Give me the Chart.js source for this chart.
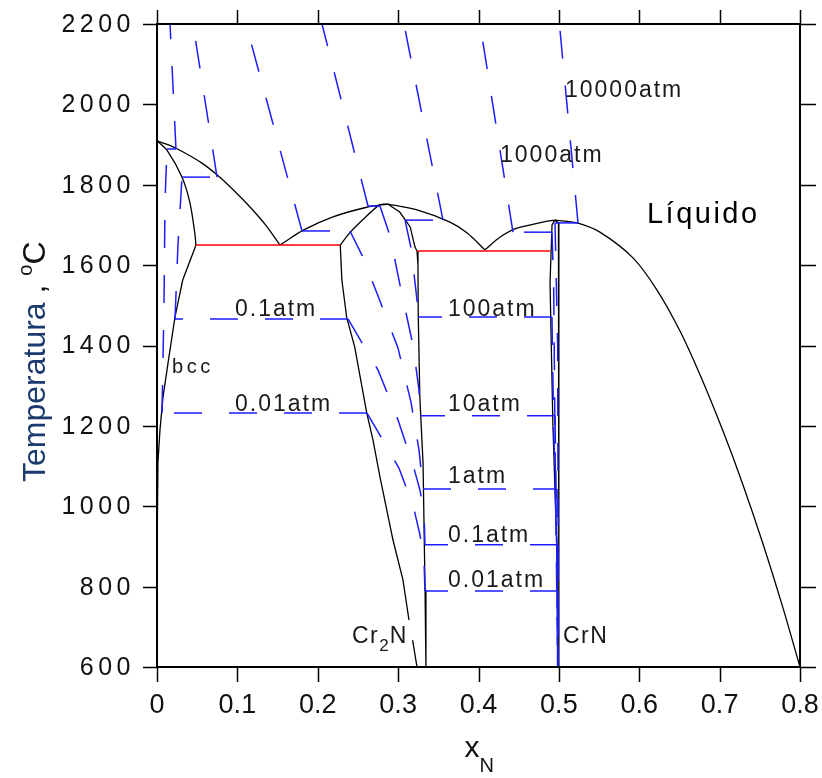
<!DOCTYPE html>
<html>
<head>
<meta charset="utf-8">
<script src="https://cdn.jsdelivr.net/npm/chart.js@4.4.0/dist/chart.umd.min.js"></script>
<style>
  html, body { margin: 0; padding: 0; background: #fff; }
  #wrap { width: 822px; height: 778px; }
</style>
</head>
<body>
<div id="wrap"><canvas id="phaseChart" width="822" height="778"></canvas></div>
<script>
// axis ticks
const xTicks = [0, 0.1, 0.2, 0.3, 0.4, 0.5, 0.6, 0.7, 0.8];
const yTicks = [600, 800, 1000, 1200, 1400, 1600, 1800, 2000, 2200];

// phase boundaries, [x_N, T in °C]
const bccLiquidus = [[0,1909],[0.016,1898],[0.032,1882],[0.055,1855],[0.075,1824],[0.096,1785],[0.116,1744],[0.135,1700],[0.153,1650]];
const bccSolidus = [[0,1909],[0.0124,1886],[0.031,1819],[0.041,1755],[0.047,1680],[0.0485,1650]];
const bccSolvus = [[0.0485,1650],[0.047,1642],[0.032,1563],[0.0224,1471],[0.0137,1356],[0.0075,1272],[0.0037,1190],[0.0012,1110],[0.0004,1095],[0.0004,940]];
const cr2nLiquidusLeft = [[0.153,1650],[0.157,1655],[0.182,1687],[0.219,1720],[0.261,1744],[0.287,1752]];
const cr2nLiquidusRight = [[0.287,1752],[0.3226,1738],[0.3645,1707],[0.386,1680],[0.408,1638]];
const cr2nSolidusLeft = [[0.287,1752],[0.277,1750],[0.256,1713],[0.240,1681],[0.228,1650]];
const cr2nSolvusLeft = [[0.228,1650],[0.230,1563],[0.236,1470],[0.246,1396],[0.261,1232],[0.2687,1165],[0.2774,1073],[0.2936,916],[0.306,817],[0.3135,717]];
const cr2nSolvusLeftLow = [[0.318,667],[0.3235,600]];
const cr2nBoundaryRight = [[0.287,1752],[0.302,1732],[0.315,1695],[0.321,1645],[0.3235,1635],[0.3247,1600],[0.325,1480],[0.327,1272],[0.331,1108],[0.3335,792],[0.3346,600]];
const crnLiquidusLeft = [[0.408,1638],[0.427,1670],[0.448,1692],[0.480,1707],[0.495,1712]];
const crnLiquidusRight = [[0.495,1712],[0.5225,1705],[0.551,1682],[0.5922,1618],[0.6221,1538],[0.6507,1436],[0.6756,1327],[0.7042,1187],[0.7291,1053],[0.754,906],[0.7788,747],[0.8,600]];
const crnBoundaryLeft = [[0.495,1712],[0.4915,1700],[0.489,1556],[0.4925,1208],[0.4975,892],[0.499,600]];
const crnBoundaryRight = [[0.495,1712],[0.4995,1705],[0.5,1600],[0.5,600]];
const eutecticBccCr2n = [[0.0485,1650],[0.2277,1650]];
const eutecticCr2nCrn = [[0.3235,1635],[0.489,1635]];

// nitrogen isobars, one list of pieces per pressure (each piece starts a new dash)
const iso001 = [
    [[0.0236,1889],[0.0162,2200]],
    [[0.0124,1889],[0.0236,1889]],
    [[0.0062,1232],[0.0087,1500],[0.010,1760],[0.0124,1889]],
    [[0.2613,1232],[0.0062,1232]],
    [[0.2613,1232],[0.2774,1177],[0.301,1095],[0.3185,1003],[0.3272,929],[0.3322,866],[0.3334,789]],
    [[0.4989,789],[0.3334,789]],
    [[0.4989,789],[0.4989,600]]
];
const iso01 = [
    [[0.0747,1819],[0.0448,2200]],
    [[0.0311,1819],[0.0747,1819]],
    [[0.0224,1466],[0.0261,1650],[0.0311,1819]],
    [[0.2376,1466],[0.0224,1466]],
    [[0.2376,1466],[0.275,1339],[0.2998,1215],[0.3185,1103],[0.3272,1040],[0.3322,983],[0.3334,904]],
    [[0.4989,904],[0.3334,904]],
    [[0.4989,904],[0.4989,600]]
];
const iso1 = [
    [[0.1804,1685],[0.1107,2200]],
    [[0.1804,1685],[0.2401,1685]],
    [[0.2401,1685],[0.255,1625],[0.275,1523],[0.2998,1394],[0.316,1259],[0.326,1140],[0.331,1043]],
    [[0.331,1043],[0.4977,1043]],
    [[0.4977,1043],[0.4985,600]]
];
const iso10 = [
    [[0.2625,1747],[0.2053,2200]],
    [[0.2625,1747],[0.2774,1747]],
    [[0.2774,1747],[0.29,1672],[0.3036,1538],[0.3185,1401],[0.326,1289],[0.3272,1225]],
    [[0.4952,1225],[0.3272,1225]],
    [[0.4952,1225],[0.4975,900],[0.4985,600]]
];
const iso100 = [
    [[0.3558,1712],[0.3073,2200]],
    [[0.3086,1712],[0.3558,1712]],
    [[0.3086,1712],[0.316,1643],[0.3235,1513],[0.3247,1471]],
    [[0.4914,1471],[0.3247,1471]],
    [[0.4914,1471],[0.4935,1200],[0.4975,890],[0.499,600]]
];
const iso1000 = [
    [[0.4429,1682],[0.4019,2200]],
    [[0.4914,1682],[0.4429,1682]],
    [[0.4914,1682],[0.4935,1556],[0.4955,1100],[0.4985,600]]
];
const iso10000 = [
    [[0.5238,1705],[0.5007,2200]],
    [[0.4952,1705],[0.5238,1705]],
    [[0.4952,1705],[0.4985,1400],[0.4995,600]]
];

// labels placed in data units
const isobarLabels = [
    { text: '0.1atm', x: 0.097, t: 1473 },
    { text: '0.01atm', x: 0.097, t: 1238 },
    { text: '100atm', x: 0.362, t: 1474 },
    { text: '10atm', x: 0.362, t: 1236 },
    { text: '1atm', x: 0.362, t: 1057 },
    { text: '0.1atm', x: 0.362, t: 912 },
    { text: '0.01atm', x: 0.362, t: 800 },
    { text: '1000atm', x: 0.4268, t: 1857 },
    { text: '10000atm', x: 0.5076, t: 2018 }
];

const BLACK = '#000000';
const BLUE = '#1c1cff';
const RED = '#ff0000';

const pts = arr => arr.map(([x, y]) => ({ x, y }));

function curve(data, color, width, opts = {}) {
    return Object.assign({
        data: pts(data),
        showLine: true,
        borderColor: color,
        borderWidth: width,
        pointRadius: 0,
        pointHoverRadius: 0,
        fill: false,
        tension: 0
    }, opts);
}

const dash = { borderDash: [28, 27], order: 0 };
const smooth = { tension: 0.3, order: 2 };
const plain = { order: 2 };

const datasets = [
    curve(eutecticBccCr2n, RED, 1.5, { order: 1 }),
    curve(eutecticCr2nCrn, RED, 1.5, { order: 1 }),
    curve(bccLiquidus, BLACK, 1.3, smooth),
    curve(bccSolidus, BLACK, 1.3, smooth),
    curve(bccSolvus, BLACK, 1.3, plain),
    curve(cr2nLiquidusLeft, BLACK, 1.3, smooth),
    curve(cr2nLiquidusRight, BLACK, 1.3, smooth),
    curve(cr2nSolidusLeft, BLACK, 1.3, smooth),
    curve(cr2nSolvusLeft, BLACK, 1.3, plain),
    curve(cr2nSolvusLeftLow, BLACK, 1.3, plain),
    curve(cr2nBoundaryRight, BLACK, 1.3, plain),
    curve(crnLiquidusLeft, BLACK, 1.3, smooth),
    curve(crnLiquidusRight, BLACK, 1.3, smooth),
    curve(crnBoundaryLeft, BLACK, 1.3, plain),
    curve(crnBoundaryRight, BLACK, 1.3, plain)
];
[iso001, iso01, iso1, iso10, iso100, iso1000, iso10000].forEach(iso => {
    iso.forEach(piece => datasets.push(curve(piece, BLUE, 1.5, dash)));
});

// draw pieces of text one after another (for sub/superscripts)
function drawRuns(ctx, runs, x, y) {
    let cx = x;
    runs.forEach(r => {
        ctx.font = r.font;
        ctx.fillStyle = r.color || '#111';
        ctx.letterSpacing = (r.spacing || 0) + 'px';
        ctx.fillText(r.text, cx, y + (r.dy || 0));
        cx += ctx.measureText(r.text).width;
    });
    ctx.letterSpacing = '0px';
}

const decorPlugin = {
    id: 'decor',
    afterDraw(chart) {
        const { ctx, chartArea: a, scales: { x, y } } = chart;
        ctx.save();

        // frame and outward ticks on all four sides
        ctx.strokeStyle = '#000';
        ctx.lineWidth = 2;
        ctx.strokeRect(a.left, a.top, a.right - a.left, a.bottom - a.top);
        ctx.lineWidth = 1.5;
        ctx.beginPath();
        xTicks.forEach(v => {
            const px = Math.round(x.getPixelForValue(v)) + 0.5;
            ctx.moveTo(px, a.bottom); ctx.lineTo(px, a.bottom + 15);
            ctx.moveTo(px, a.top); ctx.lineTo(px, a.top - 14);
        });
        yTicks.forEach(v => {
            const py = Math.round(y.getPixelForValue(v)) + 0.5;
            ctx.moveTo(a.left, py); ctx.lineTo(a.left - 14, py);
            ctx.moveTo(a.right, py); ctx.lineTo(a.right + 16, py);
        });
        ctx.stroke();

        // tick labels
        ctx.fillStyle = '#111';
        ctx.font = '25px "Liberation Sans", Arial, sans-serif';
        ctx.letterSpacing = '4.5px';
        ctx.textAlign = 'right';
        ctx.textBaseline = 'middle';
        yTicks.forEach(v => ctx.fillText(String(v), a.left - 22, y.getPixelForValue(v) + 1));
        ctx.letterSpacing = '0px';
        ctx.font = '27px "Liberation Sans", Arial, sans-serif';
        ctx.textAlign = 'center';
        ctx.textBaseline = 'alphabetic';
        xTicks.forEach(v => ctx.fillText(String(v), x.getPixelForValue(v), 713));

        // axis titles
        ctx.textAlign = 'left';
        drawRuns(ctx, [
            { text: 'x', font: '30px "Liberation Sans", Arial, sans-serif' },
            { text: 'N', font: '20px "Liberation Sans", Arial, sans-serif', dy: 15 }
        ], (a.left + a.right) / 2 - 14, 757);

        ctx.save();
        ctx.translate(45, 482);
        ctx.rotate(-Math.PI / 2);
        drawRuns(ctx, [
            { text: 'Temperatura', font: '32px "Liberation Sans", Arial, sans-serif', color: '#1b3a6e' },
            { text: ' , ', font: '32px "Liberation Sans", Arial, sans-serif', color: '#111' },
            { text: 'o', font: '20px "Liberation Sans", Arial, sans-serif', color: '#111', dy: -13 },
            { text: 'C', font: '32px "Liberation Sans", Arial, sans-serif', color: '#111' }
        ], 0, 0);
        ctx.restore();

        // isobar labels
        const small = '23px "Liberation Sans", Arial, sans-serif';
        isobarLabels.forEach(l => {
            drawRuns(ctx, [{ text: l.text, font: small, spacing: 2, color: '#1a1a1a' }],
                x.getPixelForValue(l.x), y.getPixelForValue(l.t));
        });

        // phase labels
        drawRuns(ctx, [{ text: 'bcc', font: '20px "Liberation Sans", Arial, sans-serif', spacing: 3.5, color: '#1a1a1a' }],
            x.getPixelForValue(0.0187), y.getPixelForValue(1332));
        drawRuns(ctx, [
            { text: 'Cr', font: small, spacing: 1.5, color: '#1a1a1a' },
            { text: '2', font: '17px "Liberation Sans", Arial, sans-serif', spacing: 1, color: '#1a1a1a', dy: 8 },
            { text: 'N', font: small, spacing: 1.5, color: '#1a1a1a' }
        ], x.getPixelForValue(0.2426), y.getPixelForValue(660));
        drawRuns(ctx, [{ text: 'CrN', font: small, spacing: 1.5, color: '#1a1a1a' }],
            x.getPixelForValue(0.5051), y.getPixelForValue(660));
        drawRuns(ctx, [{ text: 'Líquido', font: '29px "Liberation Sans", Arial, sans-serif', spacing: 2.5, color: '#000' }],
            x.getPixelForValue(0.6096), y.getPixelForValue(1705));

        ctx.restore();
    }
};

new Chart(document.getElementById('phaseChart').getContext('2d'), {
    type: 'scatter',
    data: { datasets: datasets },
    options: {
        responsive: false,
        devicePixelRatio: 1,
        animation: false,
        layout: { padding: { left: 0, top: 24, right: 22, bottom: 0 } },
        plugins: {
            legend: { display: false },
            tooltip: { enabled: false }
        },
        scales: {
            x: {
                type: 'linear',
                min: 0,
                max: 0.8,
                ticks: { display: false, stepSize: 0.1 },
                grid: { display: false },
                border: { display: false },
                afterFit: s => { s.height = 111; }
            },
            y: {
                type: 'linear',
                min: 600,
                max: 2200,
                ticks: { display: false, stepSize: 200 },
                grid: { display: false },
                border: { display: false },
                afterFit: s => { s.width = 157; }
            }
        }
    },
    plugins: [decorPlugin]
});
</script>
</body>
</html>
